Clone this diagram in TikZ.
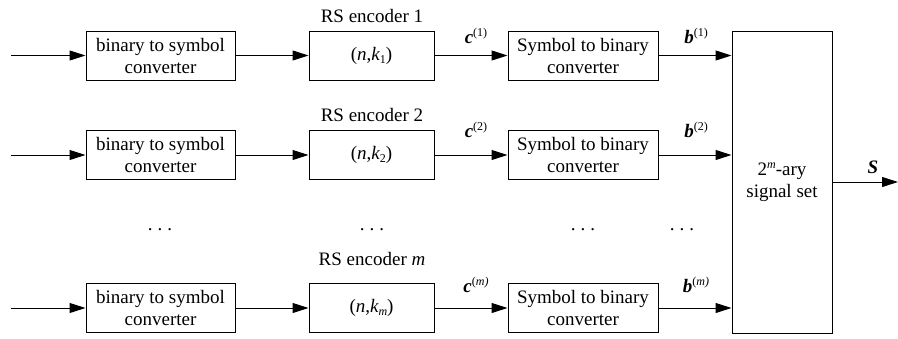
\documentclass[tikz,border=0pt]{standalone}
\usepackage{fontspec}
\setmainfont{Liberation Serif}
\usetikzlibrary{arrows.meta}
\newcommand{\upidx}[1]{\raisebox{0.75ex}{\fontsize{12}{12}\selectfont #1}}
\newcommand{\dnidx}[1]{\raisebox{-0.35ex}{\fontsize{12}{12}\selectfont #1}}

\begin{document}
\begin{tikzpicture}[x=1pt,y=-1pt,line width=1pt,
  font=\fontsize{19}{22}\selectfont,
  blk/.style={draw, align=center, minimum height=49pt, inner sep=0pt},
  flow/.style={-{Triangle[length=16pt,width=10pt]}}]
\useasboundingbox (0,0) rectangle (898,338);

% signal set mapper
\node[blk, minimum width=100pt, minimum height=302pt] (map) at (782,182) {2\upidx{\itshape m}-ary\\signal set};
\coordinate (out) at (898,182);
\draw[flow] (map.east) -- (out);
\node[anchor=base] (slab) at (873,173) {\bfseries\itshape S};

% branches 1, 2 and m
\foreach \r/\y/\idx/\ly/\cy in {1/55.5/1/22/43, 2/155/2/121/137, m/308/{\itshape m}/265/292}{
  \coordinate (src\r) at (11,\y);
  \node[blk, minimum width=149pt] (bin\r) at (160.5,\y) {binary to symbol\\converter};
  \node[blk, minimum width=125pt] (rs\r) at (371.5,\y) {({\itshape n},{\itshape k}\dnidx{\idx})};
  \node[blk, minimum width=150pt] (sym\r) at (583,\y) {Symbol to binary\\converter};
  \node[anchor=base] (rslab\r) at (372,\ly) {RS encoder \idx};
  \node[anchor=base] (clab\r) at (476,\cy) {{\bfseries\itshape c}\upidx{(\idx)}};
  \node[anchor=base] (blab\r) at (696,\cy) {{\bfseries\itshape b}\upidx{(\idx)}};
  \draw[flow] (src\r) -- (bin\r);
  \draw[flow] (bin\r) -- (rs\r);
  \draw[flow] (rs\r) -- (sym\r);
  \draw[flow] (sym\r) -- (sym\r.east -| map.west);
}

% omitted branches
\foreach \x in {160,372,583,682}{
  \node[anchor=base] (dots\x) at (\x,230) {.\hspace{5pt}.\hspace{5pt}.};
}
\end{tikzpicture}
\end{document}
